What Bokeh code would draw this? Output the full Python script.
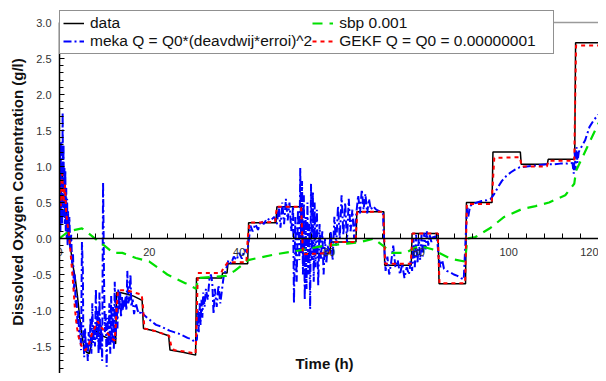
from bokeh.plotting import figure
from bokeh.models import (LinearAxis, Range1d, Span, Label, Legend, LegendItem,
                          SingleIntervalTicker, PrintfTickFormatter)
from bokeh.embed import file_html
from bokeh.resources import INLINE

# ---------------- data ----------------
black_t = [0, 0.3, 0.6, 0.9, 1.2, 1.5, 1.8, 2.0, 2.5, 3.0, 3.5, 4.0, 4.5, 5.0, 5.5, 6.0, 6.6,
           7.0, 7.5, 8.0, 8.6, 9.5, 10.6, 11.5, 12.5, 12.7, 13.5, 14.9, 16.5, 18.4, 18.7, 21.0,
           24.3, 24.6, 27.5, 30.3, 30.5, 36.1, 36.3, 37.3, 37.5, 41.9, 42.1, 48.2, 48.4, 53.9,
           54.1, 60.2, 60.4, 66.0, 66.2, 72.2, 72.4, 78.3, 78.5, 84.3, 84.5, 90.4, 90.6, 96.3,
           96.5, 102.6, 102.8, 108.6, 108.8, 114.7, 114.9, 122]
black_y = [0.75, 0.55, 0.95, 0.65, 0.85, 0.4, 0.25, 0.02, -0.15, -0.38, -0.55, -0.8, -1.1, -1.35,
           -1.52, -1.58, -1.6, -1.5, -1.32, -1.28, -1.3, -1.35, -1.38, -1.42, -1.46, -0.75, -0.75,
           -0.77, -0.8, -0.86, -1.25, -1.28, -1.35, -1.55, -1.58, -1.62, -0.55, -0.55, -0.48,
           -0.48, -0.35, -0.35, 0.22, 0.22, 0.44, 0.44, -0.21, -0.21, -0.05, -0.05, 0.37, 0.37,
           -0.37, -0.37, 0.07, 0.07, -0.63, -0.63, 0.5, 0.5, 1.2, 1.2, 1.03, 1.03, 1.1, 1.1,
           2.72, 2.72]

green_t = [0, 2.0, 5.0, 6.5, 8.5, 10.0, 12.0, 14.0, 17.0, 20.0, 24.0, 28.0, 30.5, 30.8, 37.0,
           39.0, 42.0, 48.0, 53.0, 59.0, 64.0, 67.0, 70.0, 72.0, 74.0, 77.0, 80.0, 83.0, 87.0,
           90.3, 90.8, 92.6, 96.0, 99.0, 103.0, 106.0, 109.0, 112.6, 114.6, 115.0, 117.5,
           120.0, 122.0]
green_y = [0.0, 0.1, 0.14, 0.07, -0.03, -0.1, -0.2, -0.2, -0.27, -0.32, -0.5, -0.62, -0.7,
           -0.55, -0.52, -0.45, -0.3, -0.22, -0.17, -0.1, -0.07, -0.05, 0.0, -0.1, -0.2, -0.2,
           -0.1, -0.15, -0.28, -0.32, 0.0, 0.02, 0.15, 0.3, 0.41, 0.45, 0.5, 0.6, 0.76, 0.94,
           1.27, 1.6, 1.75]

red_t = [0, 0.3, 0.6, 0.9, 1.2, 1.5, 1.8, 2.2, 2.6, 3.0, 3.4, 3.8, 4.2, 4.6, 5.0, 5.4, 5.8,
         6.3, 6.8, 7.3, 7.8, 8.5, 9.5, 10.5, 11.5, 12.3, 12.6, 13.0, 15.0, 18.3, 18.6, 18.9,
         21.0, 24.4, 24.9, 25.5, 28.0, 30.3, 30.5, 30.8, 33.0, 36.0, 36.4, 37.5, 41.6, 41.9,
         42.3, 48.0, 48.4, 53.8, 54.2, 60.2, 60.5, 65.9, 66.3, 72.1, 72.5, 78.2, 78.6, 84.2,
         84.6, 90.3, 90.7, 96.2, 96.8, 102.5, 102.9, 108.5, 108.9, 114.6, 115.0, 122]
red_y = [0.8, 0.45, 0.9, 0.5, 0.75, 0.35, 0.2, 0.0, -0.3, -0.6, -0.95, -1.2, -1.35, -1.45,
         -1.5, -1.55, -1.55, -1.5, -1.42, -1.3, -1.25, -1.15, -1.25, -1.3, -1.38, -1.42, -1.1,
         -0.72, -0.72, -0.78, -0.95, -1.25, -1.28, -1.35, -1.5, -1.55, -1.57, -1.6, -1.2,
         -0.48, -0.48, -0.48, -0.42, -0.33, -0.33, 0.0, 0.22, 0.23, 0.44, 0.44, -0.22, -0.2,
         -0.05, -0.05, 0.37, 0.37, -0.35, -0.35, 0.07, 0.07, -0.62, -0.62, 0.48, 0.48, 1.12,
         1.13, 1.0, 1.0, 1.08, 1.08, 2.68, 2.68]

blue_t = [0.0, 0.1, 0.2, 0.3, 0.4, 0.5, 0.6, 0.7, 0.8, 0.9, 1.0, 1.1, 1.2, 1.3, 1.4, 1.5, 1.6,
          1.7, 1.8, 1.9, 2.0, 2.2, 2.4,
          2.6, 2.8, 3.0, 3.2, 3.4, 3.6, 3.8, 4.0, 4.2, 4.4, 4.6, 4.8, 5.0, 5.2, 5.3, 5.5, 5.7,
          5.9, 6.1, 6.3, 6.5, 6.7, 6.9, 7.1, 7.3, 7.5, 7.7, 7.9,
          8.1, 8.3, 8.5, 8.7, 8.9, 9.1, 9.3, 9.5, 9.7, 9.8, 9.9, 10.1, 10.3, 10.5, 10.7, 10.9,
          11.1, 11.3, 11.5, 11.7, 11.9, 12.1, 12.3, 12.5, 12.7, 12.9,
          13.1, 13.3, 13.5, 13.7, 13.9, 14.1, 14.3, 14.5, 14.7, 14.9, 15.1, 15.3, 15.5, 15.8,
          16.0, 16.3, 16.6, 17.0, 17.4, 17.8, 18.2,
          18.6, 19.5, 20.5, 21.5, 22.5, 23.5, 24.5, 25.5, 26.5, 27.5, 28.5, 29.5, 30.2,
          30.6, 30.8, 31.0, 31.2, 31.4, 31.6, 31.8, 32.0, 32.3, 32.6, 33.0, 33.4, 33.7, 34.0,
          34.3, 34.6, 35.0, 35.4, 35.8, 36.2, 36.6, 37.0, 37.6, 38.2, 38.8, 39.4, 40.0, 40.6,
          41.2, 41.8,
          42.2, 42.5, 43.0, 43.6, 44.2, 44.8, 45.5, 46.2, 47.0, 47.8, 48.4, 48.8, 49.2, 49.6,
          50.0, 50.4, 50.8, 51.2, 51.6, 52.0, 52.2, 52.5, 52.8, 53.1, 53.4, 53.6, 53.8, 54.0,
          54.2, 54.4, 54.6, 54.8, 55.0, 55.2, 55.4, 55.6, 55.8, 56.0, 56.2, 56.4, 56.6, 56.8,
          57.0, 57.3, 57.6, 57.9, 58.2, 58.5, 58.8, 59.1, 59.4, 59.7,
          60.0, 60.4, 60.8, 61.2, 61.6, 62.0, 62.4, 62.8, 63.2, 63.6, 64.0, 64.4, 64.8, 65.2,
          65.6, 66.0, 66.5, 66.9, 67.3, 67.7, 68.1, 68.5, 68.9, 69.3, 69.8, 70.5, 71.2, 72.0,
          72.3, 72.6, 73.0, 73.4, 73.8, 74.3, 74.8, 75.3, 75.8, 76.3, 76.8, 77.3, 77.8, 78.2,
          78.5, 78.8, 79.1, 79.4, 79.7, 80.0, 80.3, 80.6, 80.9, 81.2, 81.5, 81.8, 82.1, 82.4,
          82.8, 83.2, 83.6, 84.0,
          84.4, 84.8, 85.2, 85.6, 86.2, 87.0, 87.8, 88.6, 89.4, 90.0,
          90.6, 90.8, 91.0, 91.4, 92.0, 93.0, 94.0, 95.0, 96.0, 96.8, 97.5, 98.5, 99.5, 100.5,
          101.5, 102.5, 104.0, 105.5, 107.0, 108.5, 110.0, 111.5, 113.0, 114.2, 114.5, 114.7,
          114.9, 115.1, 115.3, 115.6, 116.0, 117.0, 118.0, 119.0, 120.0, 121.0, 122.0]
blue_y = [0.3, 1.2, 0.1, 1.35, 0.4, 1.05, 0.2, 1.75, 0.6, 1.3, 0.3, 1.0, 0.2, 0.95, 0.1, 0.7,
          0.0, 0.55, -0.1, 0.4, -0.05, 0.3, -0.15,
          0.05, -0.35, -0.2, -0.7, -0.5, -0.95, -0.8, -1.2, -1.0, -1.4, -1.2, -1.55, -0.05,
          -0.45, -1.3, -1.65, -1.25, -1.55, -1.45, -1.7, -1.3, -1.5, -1.1, -1.6, -0.9, -1.45,
          -1.2, -1.5,
          -0.7, -1.4, -1.0, -1.6, -0.75, -1.55, -1.2, -1.7, 0.78, 0.2, -0.5, -1.3, -1.05,
          -1.78, -1.1, -1.5, -0.9, -1.6, -0.8, -1.45, -0.95, -1.55, -0.6, -1.4, -0.85, -1.25,
          -0.7, -1.0, -0.75, -1.1, -0.8, -1.0, -0.85, -0.95, -0.8, -1.0, -0.45, -0.9, -0.85,
          -0.5, -0.95, -0.85, -1.05, -0.9, -1.0, -1.05, -1.0,
          -1.05, -1.1, -1.15, -1.2, -1.22, -1.25, -1.28, -1.3, -1.32, -1.35, -1.38, -1.4,
          -1.45,
          -1.4, -1.0, -1.3, -0.9, -1.2, -0.85, -1.1, -0.75, -0.95, -0.7, -0.85, -0.55, -0.5,
          -0.6, -1.05, -0.7, -0.95, -0.65, -0.9, -0.7, -0.5, -0.45, -0.3, -0.35, -0.25, -0.3,
          -0.2, -0.28, -0.15, -0.2,
          0.0, 0.18, 0.1, 0.2, 0.12, 0.25, 0.2, 0.28, 0.25, 0.3, 0.2, 0.45, 0.15, 0.5, 0.2,
          0.55, 0.25, 0.5, 0.1, 0.45, -0.9, 0.3, -0.6, 0.4, -0.3, 0.98, -0.2, 0.8, -0.5, 0.6,
          -0.85, 0.3, -0.7, 0.5, -0.5, 0.2, -0.98, 0.76, -0.3, 0.65, -0.6, 0.5, -0.4, 0.4,
          -0.65, 0.2, -0.3, 0.1, -0.5, 0.0, -0.35, -0.1,
          -0.2, 0.1, -0.3, 0.3, -0.1, 0.45, 0.0, 0.6, 0.05, 0.5, -0.05, 0.55, 0.1, 0.4, 0.0,
          0.3, 0.6, 0.35, 0.68, 0.4, 0.62, 0.35, 0.55, 0.4, 0.45, 0.4, 0.38, 0.35,
          -0.1, -0.45, -0.25, -0.5, -0.35, -0.1, -0.4, -0.3, -0.5, -0.35, -0.55, -0.4, -0.5,
          -0.3, -0.45, 0.0, -0.4, 0.05, -0.35, 0.0, -0.3, 0.05, -0.25, 0.08, -0.15, 0.1, -0.1,
          0.05, -0.05, 0.05, 0.0, 0.05,
          -0.25, -0.4, -0.3, -0.42, -0.45, -0.47, -0.5, -0.52, -0.55, -0.57,
          0.25, 0.43, 0.3, 0.45, 0.48, 0.5, 0.52, 0.53, 0.55, 0.62, 0.7, 0.8, 0.87, 0.92,
          0.96, 0.99, 1.0, 1.01, 1.02, 1.03, 1.03, 1.04, 1.04, 1.05, 0.9, 1.2, 0.95, 1.27,
          1.05, 1.2, 1.25, 1.36, 1.55, 1.65, 1.72, 1.78, 1.82]

x_range = (0, 120)
y_range = (-1.875, 3.1667)
y_top_line = 3.0
x_major = 20
y_major = 0.5

labels = ["data", "meka Q = Q0*(deavdwij*erroi)^2", "sbp 0.001", "GEKF Q = Q0 = 0.00000001"]
x_title = "Time (h)"
y_title = "Dissolved Oxygen Concentration (g/l)"

FONT = "Liberation Sans"

p = figure(width=598, height=373, x_range=Range1d(*x_range), y_range=Range1d(*y_range),
           output_backend="svg", toolbar_location=None, x_axis_location=None,
           y_axis_location="left", min_border_left=59, min_border_right=0,
           min_border_top=10, min_border_bottom=0, background_fill_color="white",
           border_fill_color="white")
p.outline_line_color = None
p.xgrid.visible = False
p.ygrid.visible = False

# y axis (left)
ya = p.yaxis[0]
ya.ticker = SingleIntervalTicker(interval=y_major, num_minor_ticks=5)
ya.formatter = PrintfTickFormatter(format="%.1f")
ya.bounds = (-3.0, y_top_line)
ya.major_tick_in = 5
ya.major_tick_out = 0
ya.minor_tick_in = 4
ya.minor_tick_out = 0
ya.axis_line_width = 1.5
ya.axis_line_color = "black"
ya.major_tick_line_color = "black"
ya.minor_tick_line_color = "black"
ya.major_label_text_font = FONT
ya.major_label_text_font_size = "11px"
ya.major_label_text_color = "#333333"
ya.major_label_standoff = 8
ya.axis_label = y_title
ya.axis_label_text_font = FONT
ya.axis_label_text_font_size = "15px"
ya.axis_label_text_font_style = "bold"
ya.axis_label_text_color = "#111111"
ya.axis_label_standoff = 4

# x axis fixed at y = 0
xa = LinearAxis(fixed_location=0,
                ticker=SingleIntervalTicker(interval=x_major, num_minor_ticks=5))
xa.major_tick_in = 5
xa.major_tick_out = 0
xa.minor_tick_in = 5
xa.minor_tick_out = 0
xa.axis_line_width = 1.5
xa.axis_line_color = "black"
xa.major_label_text_font = FONT
xa.major_label_text_font_size = "11px"
xa.major_label_text_color = "#333333"
xa.major_label_standoff = 9
p.add_layout(xa, "below")

# top grey border line
p.add_layout(Span(location=y_top_line, dimension="width", line_color="#9a9a9a",
                  line_width=1.5))

r_black = p.line(black_t, black_y, line_color="black", line_width=1.5)
r_blue = p.line(blue_t, blue_y, line_color="#0000ff", line_width=2, line_dash="8 3 2 3")
r_green = p.line(green_t, green_y, line_color="#00e000", line_width=2.2, line_dash="10 7")
r_red = p.line(red_t, red_y, line_color="#ff0000", line_width=2, line_dash="4 4")

legend = Legend(items=[LegendItem(label=labels[0], renderers=[r_black]),
                       LegendItem(label=labels[1], renderers=[r_blue]),
                       LegendItem(label=labels[2], renderers=[r_green]),
                       LegendItem(label=labels[3], renderers=[r_red])],
                ncols=2, location="top_left", border_line_color="#222222",
                border_line_width=1.5, background_fill_color="white",
                background_fill_alpha=1.0, label_text_font=FONT,
                label_text_font_size="15.5px", label_text_color="#111111",
                glyph_width=21, glyph_height=16, label_height=16, label_standoff=6,
                padding=3, spacing=0, margin=0, label_width=211)
p.add_layout(legend)

p.add_layout(Label(x=59, y=-1.74, text=x_title, text_align="center",
                   text_baseline="middle", text_font=FONT, text_font_size="15px",
                   text_font_style="bold", text_color="#111111"))

open("out.html", "w").write(file_html(p, INLINE))
